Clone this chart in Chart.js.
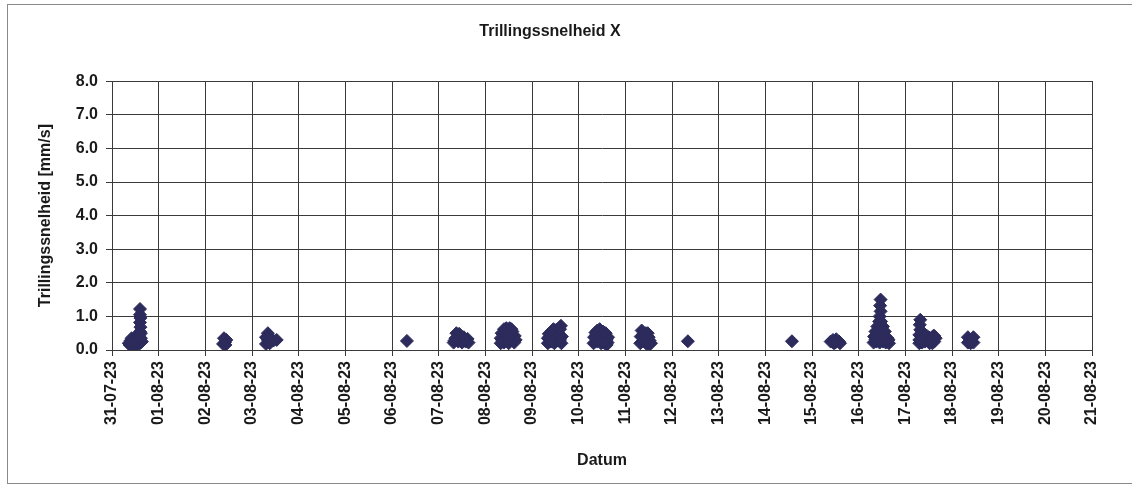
<!DOCTYPE html>
<html>
<head>
<meta charset="utf-8">
<script src="https://cdn.jsdelivr.net/npm/chart.js@4/dist/chart.umd.min.js"></script>
<style>
  html, body { margin: 0; padding: 0; background: #ffffff; }
  #wrap { width: 1132px; height: 485px; position: relative; }
</style>
</head>
<body>
<div id="wrap"><canvas id="c" width="1132" height="485"></canvas></div>
<script>
// Category tick labels on the date axis (one per day, starting 31-07-23 = day 0)
const tickLabels = ["31-07-23","01-08-23","02-08-23","03-08-23","04-08-23","05-08-23","06-08-23",
  "07-08-23","08-08-23","09-08-23","10-08-23","11-08-23","12-08-23","13-08-23","14-08-23",
  "15-08-23","16-08-23","17-08-23","18-08-23","19-08-23","20-08-23","21-08-23"];

// Measurement moments (days after 31-07-23 00:00) and vibration velocity X [mm/s]
const dayOffsets = [
  // 31-07
  0.36,0.40,0.44,0.48,0.52,0.56,0.60,0.62,0.38,0.46,0.54,0.42,0.50,0.58,0.60,0.61,0.60,0.61,0.60,0.60,0.62,0.58,
  0.44,0.52,0.48,0.56,0.40,0.64,0.58,
  // 02-08
  2.38,2.42,2.45,2.40,2.43,
  // 03-08
  3.30,3.34,3.34,3.38,3.46,3.53,3.30,
  // 06-08
  6.32,
  // 07-08
  7.32,7.36,7.38,7.42,7.46,7.50,7.54,7.58,7.62,7.44,7.64,
  7.40,7.48,7.56,7.34,
  // 08-08
  8.33,8.33,8.35,8.40,8.40,8.40,8.46,8.46,8.50,8.52,8.52,8.57,8.58,8.62,8.63,8.65,8.45,
  8.37,8.44,8.49,8.55,8.60,8.48,8.42,8.56,
  // 09-08
  9.34,9.34,9.36,9.40,9.42,9.44,9.48,9.50,9.52,9.56,9.57,9.60,9.62,9.63,9.64,9.46,
  9.38,9.45,9.50,9.55,9.60,9.58,9.44,
  // 10-08
  10.32,10.33,10.36,10.40,10.42,10.45,10.48,10.50,10.52,10.56,10.58,10.62,10.63,10.60,
  10.38,10.44,10.48,10.55,10.60,10.40,10.53,
  // 11-08
  11.32,11.33,11.35,11.39,11.40,11.44,11.45,11.48,11.52,11.55,11.50,
  11.37,11.42,11.47,11.50,11.44,
  // 12-08
  12.34,
  // 14-08
  14.57,
  // 15-08
  15.40,15.45,15.50,15.52,15.58,15.60,15.47,
  // 16-08
  16.47,16.46,16.47,16.45,16.44,16.48,16.40,16.52,16.36,16.44,16.56,16.33,16.40,16.48,16.56,16.62,
  16.32,16.38,16.45,16.52,16.58,16.65,16.64,
  16.42,16.50,16.54,16.42,16.60,16.36,16.50,
  // 17-08
  17.32,17.31,17.32,17.30,17.30,17.30,17.36,17.38,17.42,17.46,17.48,17.52,17.55,17.60,17.62,17.65,17.58,
  17.40,17.44,17.50,17.56,17.62,17.34,
  // 18-08
  18.34,18.34,18.40,18.40,18.46,18.46
];
const velocities = [
  // 31-07
  0.20,0.28,0.22,0.30,0.25,0.32,0.20,0.35,0.15,0.15,0.15,0.35,0.38,0.42,0.55,0.68,0.82,0.95,1.05,1.22,0.50,0.25,
  0.30,0.33,0.20,0.22,0.20,0.25,0.35,
  // 02-08
  0.18,0.22,0.30,0.35,0.15,
  // 03-08
  0.18,0.30,0.50,0.20,0.28,0.30,0.38,
  // 06-08
  0.27,
  // 07-08
  0.22,0.35,0.50,0.25,0.40,0.22,0.38,0.25,0.33,0.48,0.22,
  0.38,0.30,0.30,0.28,
  // 08-08
  0.20,0.35,0.50,0.22,0.42,0.62,0.30,0.55,0.20,0.42,0.65,0.30,0.55,0.22,0.42,0.30,0.65,
  0.28,0.42,0.50,0.45,0.35,0.32,0.55,0.62,
  // 09-08
  0.20,0.35,0.48,0.25,0.45,0.58,0.20,0.38,0.60,0.28,0.50,0.62,0.72,0.20,0.40,0.62,
  0.40,0.35,0.50,0.40,0.30,0.62,0.25,
  // 10-08
  0.20,0.38,0.52,0.25,0.45,0.62,0.20,0.40,0.55,0.30,0.50,0.22,0.38,0.15,
  0.45,0.32,0.55,0.42,0.30,0.58,0.22,
  // 11-08
  0.20,0.40,0.58,0.28,0.48,0.20,0.38,0.50,0.28,0.20,0.15,
  0.38,0.30,0.28,0.38,0.50,
  // 12-08
  0.26,
  // 14-08
  0.26,
  // 15-08
  0.25,0.30,0.22,0.32,0.25,0.20,0.20,
  // 16-08
  1.50,1.32,1.15,1.00,0.85,0.85,0.70,0.70,0.55,0.60,0.55,0.40,0.42,0.45,0.42,0.35,
  0.22,0.25,0.22,0.25,0.22,0.20,0.30,
  0.50,0.55,0.35,0.32,0.28,0.32,0.35,
  // 17-08
  0.90,0.75,0.60,0.45,0.30,0.20,0.22,0.35,0.25,0.42,0.30,0.20,0.35,0.42,0.25,0.35,0.20,
  0.42,0.30,0.38,0.28,0.42,0.30,
  // 18-08
  0.38,0.22,0.30,0.20,0.38,0.22
];

const points = dayOffsets.map((d, i) => ({ x: d, y: velocities[i] }));

const FONT = "'Liberation Sans', Arial, sans-serif";
const TEXT = '#1a1a1a';
const GRID = '#3a3a3a';
const MARK = '#2c2b5c';

const framePlugin = {
  id: 'frame',
  beforeDraw(chart) {
    const ctx = chart.ctx;
    ctx.save();
    ctx.fillStyle = '#ffffff';
    ctx.fillRect(0, 0, chart.width, chart.height);
    ctx.strokeStyle = '#8a8a8a';
    ctx.lineWidth = 1;
    ctx.strokeRect(7.5, 4.5, 1130, 479);
    ctx.restore();
  }
};

new Chart(document.getElementById('c'), {
  type: 'scatter',
  data: {
    datasets: [{
      label: 'Trillingssnelheid X',
      data: points,
      pointStyle: 'rectRot',
      pointRadius: 6.5,
      pointHoverRadius: 6.5,
      backgroundColor: MARK,
      borderColor: MARK,
      borderWidth: 1
    }]
  },
  options: {
    responsive: false,
    animation: false,
    devicePixelRatio: 1,
    layout: { padding: { left: 8, right: 40, top: 0, bottom: 5 } },
    plugins: {
      legend: { display: false },
      tooltip: { enabled: false },
      title: {
        display: true,
        text: 'Trillingssnelheid X',
        color: TEXT,
        font: { family: FONT, size: 16, weight: 'bold' },
        padding: { top: 22, bottom: 40 }
      }
    },
    scales: {
      x: {
        type: 'linear',
        min: 0,
        max: tickLabels.length - 1,
        afterBuildTicks(scale) {
          scale.ticks = tickLabels.map((_, i) => ({ value: i }));
        },
        afterFit(scale) { scale.height = 130; },
        ticks: {
          color: TEXT,
          font: { family: FONT, size: 16, weight: 'bold' },
          maxRotation: 90,
          minRotation: 90,
          autoSkip: false,
          padding: 5,
          callback: (v, i) => tickLabels[i]
        },
        grid: { color: GRID, lineWidth: 1, tickLength: 6, drawTicks: true, tickColor: GRID },
        border: { color: GRID, width: 1 },
        title: {
          display: true,
          text: 'Datum',
          color: TEXT,
          font: { family: FONT, size: 16, weight: 'bold' },
          padding: { top: 0, bottom: 10 }
        }
      },
      y: {
        min: 0,
        max: 8,
        afterFit(scale) { scale.width = 104; },
        ticks: {
          stepSize: 1,
          color: TEXT,
          font: { family: FONT, size: 16, weight: 'bold' },
          padding: 8,
          callback: (v) => Number(v).toFixed(1)
        },
        grid: { color: GRID, lineWidth: 1, tickLength: 6, tickColor: GRID },
        border: { color: GRID, width: 1 },
        title: {
          display: true,
          text: 'Trillingssnelheid [mm/s]',
          color: TEXT,
          font: { family: FONT, size: 16, weight: 'bold' },
          padding: { top: 28, bottom: 0 }
        }
      }
    }
  },
  plugins: [framePlugin, {
    id: 'rightTopBorder',
    afterDraw(chart) {
      const a = chart.chartArea, ctx = chart.ctx;
      ctx.save();
      ctx.strokeStyle = GRID;
      ctx.lineWidth = 1;
      ctx.strokeRect(Math.round(a.left) + 0.5, Math.round(a.top) + 0.5,
        Math.round(a.right - a.left), Math.round(a.bottom - a.top));
      ctx.restore();
    }
  }]
});
</script>
</body>
</html>
